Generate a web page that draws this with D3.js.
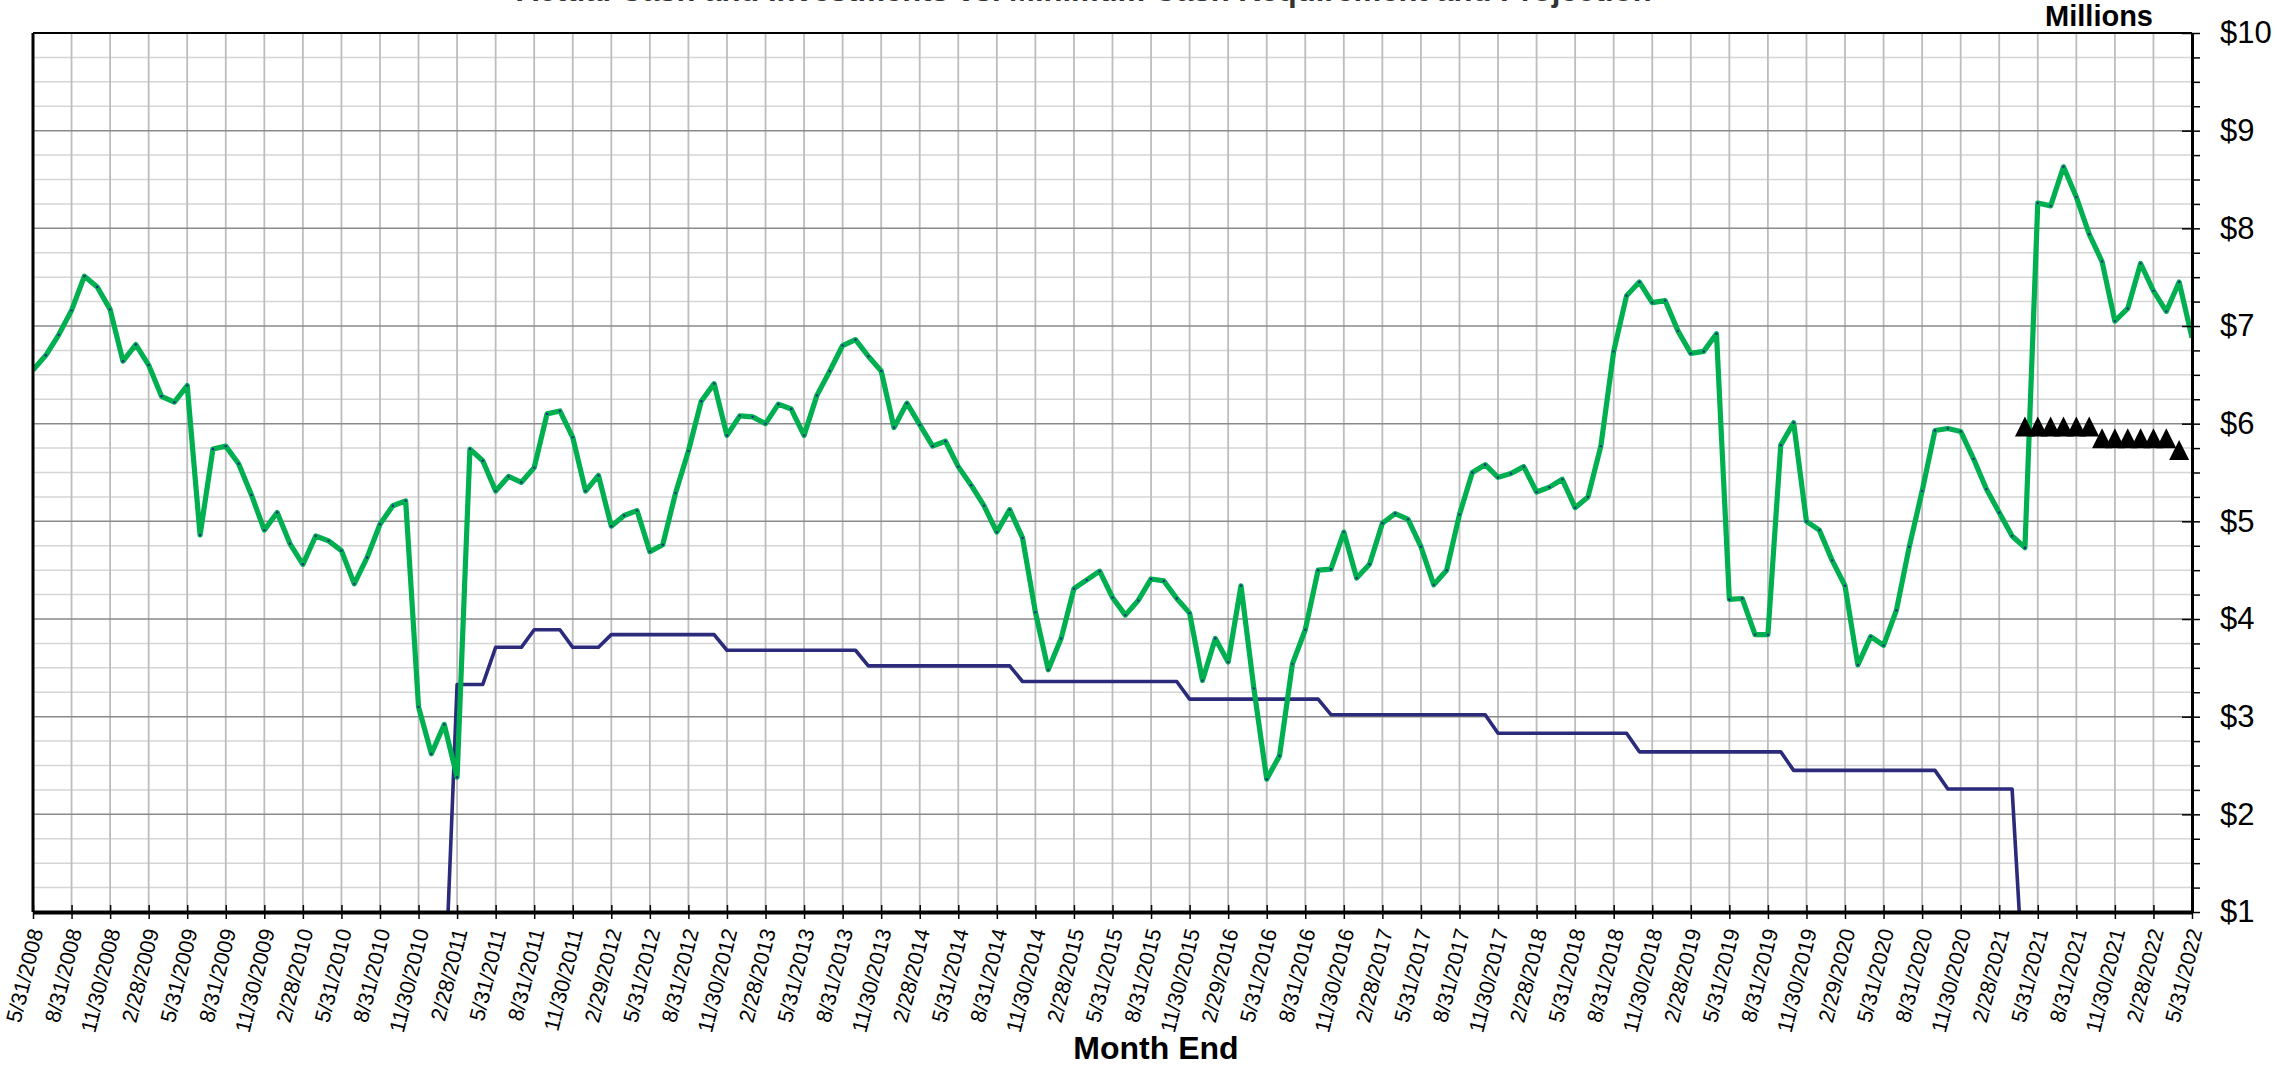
<!DOCTYPE html>
<html>
<head>
<meta charset="utf-8">
<script src="https://cdn.jsdelivr.net/npm/d3@7"></script>
<style>
  body { margin: 0; background: #fff; }
  text { font-family: "Liberation Sans", Arial, sans-serif; }
</style>
</head>
<body>
<div id="chart-area"></div>
<script>
// Month-end cash and investments ($ millions), 5/31/2008 .. 5/31/2022
var cashBalance = [
  6.55, 6.70, 6.91, 7.16, 7.51, 7.40, 7.17, 6.64, 6.81, 6.60, 6.28, 6.22,
  6.39, 4.86, 5.74, 5.77, 5.59, 5.27, 4.91, 5.09, 4.77, 4.56, 4.85, 4.80,
  4.70, 4.36, 4.63, 4.97, 5.16, 5.21, 3.10, 2.62, 2.92, 2.38, 5.74, 5.62,
  5.31, 5.46, 5.40, 5.55, 6.10, 6.13, 5.86, 5.31, 5.47, 4.95, 5.06, 5.11,
  4.69, 4.76, 5.29, 5.72, 6.23, 6.41, 5.88, 6.08, 6.07, 6.00, 6.20, 6.15,
  5.88, 6.29, 6.54, 6.80, 6.86, 6.69, 6.54, 5.96, 6.21, 5.99, 5.77, 5.82,
  5.56, 5.37, 5.16, 4.89, 5.12, 4.83, 4.07, 3.48, 3.80, 4.31, 4.40, 4.49,
  4.22, 4.04, 4.19, 4.41, 4.39, 4.21, 4.06, 3.37, 3.80, 3.56, 4.34, 3.29,
  2.36, 2.60, 3.54, 3.89, 4.50, 4.51, 4.89, 4.42, 4.56, 4.98, 5.08, 5.02,
  4.74, 4.35, 4.50, 5.07, 5.50, 5.58, 5.45, 5.49, 5.56, 5.30, 5.35, 5.43,
  5.14, 5.25, 5.77, 6.74, 7.31, 7.45, 7.24, 7.26, 6.95, 6.72, 6.74, 6.92,
  4.20, 4.21, 3.84, 3.84, 5.78, 6.01, 5.00, 4.91, 4.60, 4.34, 3.53, 3.82,
  3.73, 4.09, 4.74, 5.31, 5.93, 5.95, 5.92, 5.64, 5.33, 5.09, 4.85, 4.73,
  8.26, 8.23, 8.63, 8.32, 7.94, 7.66, 7.05, 7.18, 7.64, 7.36, 7.15, 7.45,
  6.88
];

// Minimum cash requirement ($ millions), same months (0 = none, falls below axis)
var minimumCash = [
  0, 0, 0, 0, 0, 0, 0, 0, 0, 0, 0, 0,
  0, 0, 0, 0, 0, 0, 0, 0, 0, 0, 0, 0,
  0, 0, 0, 0, 0, 0, 0, 0, 0, 3.33, 3.33, 3.33,
  3.71, 3.71, 3.71, 3.89, 3.89, 3.89, 3.71, 3.71, 3.71, 3.84, 3.84, 3.84,
  3.84, 3.84, 3.84, 3.84, 3.84, 3.84, 3.68, 3.68, 3.68, 3.68, 3.68, 3.68,
  3.68, 3.68, 3.68, 3.68, 3.68, 3.52, 3.52, 3.52, 3.52, 3.52, 3.52, 3.52,
  3.52, 3.52, 3.52, 3.52, 3.52, 3.36, 3.36, 3.36, 3.36, 3.36, 3.36, 3.36,
  3.36, 3.36, 3.36, 3.36, 3.36, 3.36, 3.18, 3.18, 3.18, 3.18, 3.18, 3.18,
  3.18, 3.18, 3.18, 3.18, 3.18, 3.02, 3.02, 3.02, 3.02, 3.02, 3.02, 3.02,
  3.02, 3.02, 3.02, 3.02, 3.02, 3.02, 2.83, 2.83, 2.83, 2.83, 2.83, 2.83,
  2.83, 2.83, 2.83, 2.83, 2.83, 2.64, 2.64, 2.64, 2.64, 2.64, 2.64, 2.64,
  2.64, 2.64, 2.64, 2.64, 2.64, 2.45, 2.45, 2.45, 2.45, 2.45, 2.45, 2.45,
  2.45, 2.45, 2.45, 2.45, 2.45, 2.26, 2.26, 2.26, 2.26, 2.26, 2.26, 0,
  0, 0, 0, 0, 0, 0, 0, 0, 0, 0, 0, 0,
  0
];

// Projected balance (black triangles)
var projectedMonths = [
  "4/30/2021", "5/31/2021", "6/30/2021", "7/31/2021", "8/31/2021", "9/30/2021",
  "10/31/2021", "11/30/2021", "12/31/2021", "1/31/2022", "2/28/2022", "3/31/2022",
  "4/30/2022"
];
var projectedCash = [5.97, 5.97, 5.97, 5.97, 5.97, 5.97, 5.85, 5.85, 5.85, 5.85, 5.85, 5.85, 5.73];

var yMajorTicks = [1, 2, 3, 4, 5, 6, 7, 8, 9, 10];

////////////////////////
// layout
////////////////////////
var margin = { left: 33, right: 88, top: 33, bottom: 155 };
var width = 2280 - margin.left - margin.right,
  height = 1067 - margin.top - margin.bottom;

var fmt = d3.timeFormat("%-m/%-d/%Y");
var months = d3.timeMonth
  .range(new Date(2008, 5, 1), new Date(2022, 6, 1))
  .map(function(d) { return fmt(d3.timeDay.offset(d, -1)); });
var quarterMonths = months.filter(function(d, i) { return i % 3 === 0; });

var svg = d3.select("#chart-area")
  .append("svg")
  .attr("width", 2280)
  .attr("height", 1067);

// Title (cut off at the top of the picture, as in the original)
svg.append("text")
  .attr("x", 1084)
  .attr("y", 0.5)
  .attr("text-anchor", "middle")
  .attr("font-size", "31px")
  .attr("font-weight", "bold")
  .attr("fill", "#333")
  .text("Actual Cash and Investments vs. Minimum Cash Requirement and Projection");

svg.append("text")
  .attr("x", 2153)
  .attr("y", 26)
  .attr("text-anchor", "end")
  .attr("font-size", "29px")
  .attr("font-weight", "bold")
  .text("Millions");

var g = svg.append("g")
  .attr("transform", "translate(" + margin.left + ", " + margin.top + ")");

// Scales
var x = d3.scalePoint().domain(months).range([0, width]);
var y = d3.scaleLinear().domain([1, 10]).range([height, 0]);

// Gridlines
var minorVals = d3.range(1, 10.001, 0.25).filter(function(d) { return d % 1 !== 0; });
g.append("g").selectAll("line")
  .data(minorVals).enter().append("line")
  .attr("x1", 0).attr("x2", width)
  .attr("y1", function(d) { return y(d); })
  .attr("y2", function(d) { return y(d); })
  .attr("stroke", "#d6d6d6").attr("stroke-width", 1.5);

g.append("g").selectAll("line")
  .data(quarterMonths.slice(1, -1)).enter().append("line")
  .attr("x1", function(d) { return x(d); })
  .attr("x2", function(d) { return x(d); })
  .attr("y1", 0).attr("y2", height)
  .attr("stroke", "#bdbdbd").attr("stroke-width", 1.8);

g.append("g").selectAll("line")
  .data(yMajorTicks.slice(1, -1)).enter().append("line")
  .attr("x1", 0).attr("x2", width)
  .attr("y1", function(d) { return y(d); })
  .attr("y2", function(d) { return y(d); })
  .attr("stroke", "#8a8a8a").attr("stroke-width", 1.5);

// Lines (clipped to plot area)
g.append("clipPath").attr("id", "plot-clip")
  .append("rect").attr("x", 0).attr("y", 0).attr("width", width).attr("height", height);

var plot = g.append("g").attr("clip-path", "url(#plot-clip)");

var line = d3.line()
  .x(function(d, i) { return x(months[i]); })
  .y(function(d) { return y(d); });

plot.append("path")
  .datum(minimumCash)
  .attr("d", line)
  .attr("fill", "none")
  .attr("stroke", "#2c2a7a")
  .attr("stroke-width", 3.6)
  .attr("stroke-linejoin", "round");

plot.append("path")
  .datum(cashBalance)
  .attr("d", line)
  .attr("fill", "none")
  .attr("stroke", "#00b050")
  .attr("stroke-width", 5.2)
  .attr("stroke-linejoin", "round");

plot.selectAll(".dot")
  .data(cashBalance).enter().append("circle")
  .attr("class", "dot")
  .attr("cx", function(d, i) { return x(months[i]); })
  .attr("cy", function(d) { return y(d); })
  .attr("r", 1.2)
  .attr("fill", "#1f2a8a");

// Projected triangles
g.selectAll(".proj")
  .data(projectedCash).enter().append("path")
  .attr("class", "proj")
  .attr("d", "M0,-10L10,10L-10,10Z")
  .attr("transform", function(d, i) {
    return "translate(" + x(projectedMonths[i]) + "," + y(d) + ")";
  })
  .attr("fill", "#000");

// Borders
g.append("line").attr("x1", 0).attr("x2", width).attr("y1", 0).attr("y2", 0)
  .attr("stroke", "#000").attr("stroke-width", 2);
g.append("line").attr("x1", 0).attr("x2", 0).attr("y1", 0).attr("y2", height)
  .attr("stroke", "#000").attr("stroke-width", 3);

// Right axis
var yAxisCall = d3.axisRight(y)
  .tickValues(d3.range(1, 10.001, 0.25))
  .tickSize(8)
  .tickSizeOuter(0)
  .tickPadding(20)
  .tickFormat(function(d) { return d % 1 === 0 ? "$" + d : ""; });

var yAxisGroup = g.append("g")
  .attr("transform", "translate(" + width + ",0)")
  .call(yAxisCall);
yAxisGroup.select(".domain").attr("stroke-width", 3);
yAxisGroup.selectAll(".tick line").attr("stroke-width", 1.5);
yAxisGroup.selectAll(".tick text")
  .attr("font-size", "31px")
  .attr("font-family", "'Liberation Sans', Arial, sans-serif")
  .attr("fill", "#000");
yAxisGroup.selectAll(".tick")
  .filter(function(d) { return d % 1 === 0; })
  .append("line")
  .attr("x1", -10).attr("x2", 0)
  .attr("stroke", "#000").attr("stroke-width", 1.5);

// Bottom axis
var xAxisCall = d3.axisBottom(x)
  .tickValues(quarterMonths)
  .tickSize(7)
  .tickSizeOuter(0)
  .tickFormat(function(d) { return d; });

var xAxisGroup = g.append("g")
  .attr("transform", "translate(0," + height + ")")
  .call(xAxisCall);
xAxisGroup.select(".domain").attr("stroke-width", 4);
xAxisGroup.selectAll(".tick line").attr("y1", -7).attr("stroke-width", 1.5);
xAxisGroup.selectAll(".tick text")
  .attr("x", 0).attr("y", 0).attr("dy", 0)
  .attr("text-anchor", "end")
  .attr("transform", "translate(10,19) rotate(-76)")
  .attr("font-size", "21.5px")
  .attr("font-family", "'Liberation Sans', Arial, sans-serif")
  .attr("fill", "#000");

// X Label
g.append("text")
  .attr("x", 1123)
  .attr("y", height + 147)
  .attr("text-anchor", "middle")
  .attr("font-size", "32px")
  .attr("font-weight", "bold")
  .text("Month End");
</script>
</body>
</html>
